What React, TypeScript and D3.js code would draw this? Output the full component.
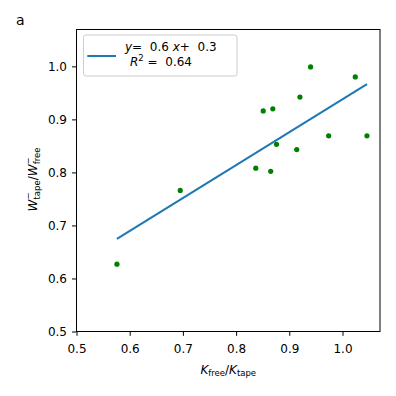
import React, { useEffect, useRef } from "react";
import { select, scaleLinear, axisLeft, axisBottom, extent, line } from "d3";

// K_free/K_tape vs W-_tape/W-_free
const kRatio = [0.576, 0.695, 0.837, 0.851, 0.865, 0.869, 0.876, 0.914, 0.92, 0.94, 0.974, 1.024, 1.046];
const wRatio = [0.627, 0.766, 0.808, 0.916, 0.802, 0.92, 0.853, 0.843, 0.942, 0.999, 0.869, 0.98, 0.869];
const fitSlope = 0.621;
const fitIntercept = 0.317;
const xTicks = [0.5, 0.6, 0.7, 0.8, 0.9, 1.0];
const yTicks = [0.5, 0.6, 0.7, 0.8, 0.9, 1.0];

export default function App() {
  const ref = useRef<SVGSVGElement>(null);

  useEffect(() => {
    const width = 396;
    const height = 396;
    const margin = { top: 29.5, right: 16, bottom: 64.5, left: 76.5 };
    const innerWidth = width - margin.left - margin.right;
    const innerHeight = height - margin.top - margin.bottom;
    const font = "DejaVu Sans, sans-serif";
    const fs = 12;

    const svg = select(ref.current);
    svg.selectAll("*").remove();

    const xScale = scaleLinear().domain([0.5, 1.0705]).range([0, innerWidth]);
    const yScale = scaleLinear().domain([0.5, 1.0695]).range([innerHeight, 0]);

    const g = svg.append("g").attr("transform", `translate(${margin.left},${margin.top})`);

    const xAxis = axisBottom(xScale).tickValues(xTicks).tickFormat((d) => (+d).toFixed(1)).tickSize(4.3).tickPadding(9);
    const yAxis = axisLeft(yScale).tickValues(yTicks).tickFormat((d) => (+d).toFixed(1)).tickSize(4.5).tickPadding(5);

    const xAxisG = g.append("g").attr("transform", `translate(0,${innerHeight})`).call(xAxis);
    const yAxisG = g.append("g").call(yAxis);
    [xAxisG, yAxisG].forEach((a) => {
      a.select(".domain").remove();
      a.selectAll("text").attr("font-family", font).attr("font-size", fs).attr("fill", "#000");
      a.selectAll("line").attr("stroke", "#000").attr("stroke-width", 1);
    });

    // regression line over the data range
    const [x0, x1] = extent(kRatio) as [number, number];
    const fit = [x0, x1].map((x) => [x, fitIntercept + fitSlope * x] as [number, number]);
    g.append("path")
      .attr("d", line()
        .x((d) => xScale(d[0]))
        .y((d) => yScale(d[1]))(fit))
      .attr("fill", "none")
      .attr("stroke", "#1f77b4")
      .attr("stroke-width", 2);

    g.selectAll("circle.pt")
      .data(kRatio)
      .enter()
      .append("circle")
      .attr("class", "pt")
      .attr("cx", (d) => xScale(d))
      .attr("cy", (d, i) => yScale(wRatio[i]))
      .attr("r", 2.6)
      .attr("fill", "green");

    // frame
    g.append("rect")
      .attr("width", innerWidth)
      .attr("height", innerHeight)
      .attr("fill", "none")
      .attr("stroke", "#000")
      .attr("stroke-width", 1);

    // legend
    const lg = g.append("g").attr("transform", "translate(7,5.5)");
    lg.append("rect")
      .attr("width", 153.5)
      .attr("height", 41)
      .attr("rx", 2.5)
      .attr("fill", "rgba(255,255,255,0.8)")
      .attr("stroke", "#cccccc")
      .attr("stroke-width", 1);
    lg.append("line")
      .attr("x1", 3.8).attr("x2", 32.5)
      .attr("y1", 21).attr("y2", 21)
      .attr("stroke", "#1f77b4")
      .attr("stroke-width", 2);
    const t1 = lg.append("text").attr("x", 41.5).attr("y", 15.7)
      .attr("font-family", font).attr("font-size", fs).style("white-space", "pre");
    t1.append("tspan").attr("font-style", "italic").text("y");
    t1.append("tspan").text("=  0.6 ");
    t1.append("tspan").attr("font-style", "italic").text("x");
    t1.append("tspan").text("+  0.3");
    const t2 = lg.append("text").attr("x", 46.5).attr("y", 31)
      .attr("font-family", font).attr("font-size", fs).style("white-space", "pre");
    t2.append("tspan").attr("font-style", "italic").text("R");
    t2.append("tspan").attr("font-size", 8.5).attr("dy", -5).text("2");
    t2.append("tspan").attr("dy", 5).text(" =  0.64");

    // x label
    const xl = svg.append("text")
      .attr("x", margin.left + innerWidth / 2)
      .attr("y", 373.5)
      .attr("text-anchor", "middle")
      .attr("font-family", font)
      .attr("font-size", fs);
    xl.append("tspan").attr("font-style", "italic").text("K");
    xl.append("tspan").attr("font-size", 8.5).attr("dy", 2.5).text("free");
    xl.append("tspan").attr("dy", -2.5).text("/");
    xl.append("tspan").attr("font-style", "italic").text("K");
    xl.append("tspan").attr("font-size", 8.5).attr("dy", 2.5).text("tape");

    // y label
    const yl = svg.append("text")
      .attr("transform", `translate(36.5,${margin.top + innerHeight / 2 - 1}) rotate(-90)`)
      .attr("text-anchor", "middle")
      .attr("font-family", font)
      .attr("font-size", fs);
    yl.append("tspan").attr("font-style", "italic").text("W");
    yl.append("tspan").attr("font-size", 8.5).attr("dy", -5.5).text("\u2212");
    yl.append("tspan").attr("font-size", 8.5).attr("dx", -7).attr("dy", 8.5).text("tape");
    yl.append("tspan").attr("dy", -3).text("/");
    yl.append("tspan").attr("font-style", "italic").text("W");
    yl.append("tspan").attr("font-size", 8.5).attr("dy", -5.5).text("\u2212");
    yl.append("tspan").attr("font-size", 8.5).attr("dx", -7).attr("dy", 8.5).text("free");

    // panel letter
    svg.append("text")
      .attr("x", 16)
      .attr("y", 25)
      .attr("font-family", font)
      .attr("font-size", 14)
      .text("a");
  }, []);

  return (
    <svg
      ref={ref}
      width={396}
      height={396}
      style={{ position: "absolute", left: 0, top: 0, background: "#fff" }}
    />
  );
}
